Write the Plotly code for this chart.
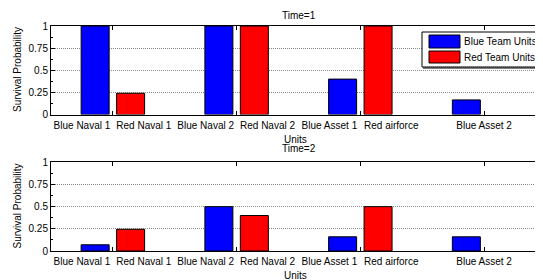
import plotly.graph_objects as go

groups = [1, 2, 3, 4]
blue_t1 = [1.0, 1.0, 0.40, 0.165]
red_t1 = [0.24, 1.0, 1.0, None]
blue_t2 = [0.07, 0.50, 0.16, 0.16]
red_t2 = [0.245, 0.40, 0.50, None]
label_pos = [0.75, 1.25, 1.75, 2.25, 2.75, 3.25, 4.0]
label_text = ["Blue Naval 1", "Red Naval 1", "Blue Naval 2", "Red Naval 2",
              "Blue Asset 1", "Red airforce", "Blue Asset 2"]
ytick_vals = [0, 0.25, 0.5, 0.75, 1]
ytick_text = ["0", "0.25", "0.5", "0.75", "1"]
titles = ["Time=1", "Time=2"]
series_names = ["Blue Team Units", "Red Team Units"]
BLUE = "#0000FF"
RED = "#FF0000"

W, H = 543, 280
OFF = 8  # page body margin offset
FONT = "Liberation Sans, Arial, sans-serif"

def px_x(p):
    return (p - OFF) / W

def px_y(p):
    return 1 - (p - OFF) / H

xdom = [px_x(51), px_x(541)]
ydoms = [[px_y(114.5), px_y(26)], [px_y(251), px_y(162.3)]]
xrange = [0.5, 4.46]

fig = go.Figure()
data = [(blue_t1, red_t1), (blue_t2, red_t2)]
for i, (b, r) in enumerate(data):
    xa = "x" if i == 0 else "x2"
    ya = "y" if i == 0 else "y2"
    fig.add_trace(go.Bar(x=groups, y=b, name=series_names[0], marker=dict(color=BLUE, line=dict(color="black", width=1)),
                         xaxis=xa, yaxis=ya, showlegend=False, offsetgroup="b"))
    fig.add_trace(go.Bar(x=groups, y=r, name=series_names[1], marker=dict(color=RED, line=dict(color="black", width=1)),
                         xaxis=xa, yaxis=ya, showlegend=False, offsetgroup="r"))
    lxa = "x3" if i == 0 else "x4"
    fig.add_trace(go.Scatter(x=[label_pos[0]], y=[0], mode="markers", marker=dict(opacity=0),
                             xaxis=lxa, yaxis=ya, showlegend=False, hoverinfo="skip"))

common_x = dict(domain=xdom, range=xrange, tickvals=groups, showticklabels=False, ticks="inside",
                ticklen=4, tickcolor="black", showline=True, linecolor="black", linewidth=1,
                mirror="ticks", showgrid=False, zeroline=False, automargin=False)
common_y = dict(range=[0, 1], tickvals=ytick_vals, ticktext=ytick_text, ticks="inside", ticklen=4,
                tickcolor="black", showline=True, linecolor="black", linewidth=1, mirror="ticks",
                showgrid=True, gridcolor="#8a8a8a", griddash="1px,1px", gridwidth=1, zeroline=False,
                automargin=False,
                tickfont=dict(family=FONT, size=10, color="black"),
                minor=dict(dtick=0.125, ticks="inside", ticklen=2, tickcolor="black", showgrid=False))
label_x = dict(domain=xdom, range=xrange, tickvals=label_pos, ticktext=label_text, ticks="",
               showline=False, showgrid=False, zeroline=False, automargin=False, ticklabelstandoff=3,
               tickfont=dict(family=FONT, size=10, color="black"))

fig.update_layout(
    width=W, height=H, margin=dict(l=0, r=0, t=0, b=0, autoexpand=False),
    paper_bgcolor="white", plot_bgcolor="white",
    barmode="group", bargap=0.427, bargroupgap=0.21,
    showlegend=False,
    xaxis=dict(anchor="y", **common_x),
    yaxis=dict(anchor="x", domain=ydoms[0], **common_y),
    xaxis2=dict(anchor="y2", **common_x),
    yaxis2=dict(anchor="x2", domain=ydoms[1], **common_y),
    xaxis3=dict(anchor="y", overlaying="x", **label_x),
    xaxis4=dict(anchor="y2", overlaying="x2", **label_x),
)

ann_font = dict(family=FONT, size=10, color="black")
anns = []
for i, (tpx, upx, ycen) in enumerate([(15, 139, 70), (148, 275, 206.5)]):
    anns.append(dict(text=titles[i], x=px_x(299), y=px_y(tpx), xref="paper", yref="paper",
                     showarrow=False, xanchor="center", yanchor="middle", font=ann_font))
    anns.append(dict(text="Units", x=px_x(295), y=px_y(upx), xref="paper", yref="paper",
                     showarrow=False, xanchor="center", yanchor="middle", font=ann_font))
    anns.append(dict(text="Survival Probability", x=px_x(17), y=px_y(ycen), xref="paper", yref="paper",
                     showarrow=False, xanchor="center", yanchor="middle", textangle=-90, font=ann_font))

shapes = []
shapes.append(dict(type="rect", xref="paper", yref="paper", x0=px_x(422), x1=px_x(540), y0=px_y(67), y1=px_y(32),
                   line=dict(color="black", width=1), fillcolor="white", layer="above"))
shapes.append(dict(type="line", xref="paper", yref="paper", x0=px_x(541), x1=px_x(541), y0=px_y(68), y1=px_y(33),
                   line=dict(color="black", width=1), layer="above"))
shapes.append(dict(type="line", xref="paper", yref="paper", x0=px_x(423), x1=px_x(541), y0=px_y(68), y1=px_y(68),
                   line=dict(color="black", width=1), layer="above"))
for j, (col, yt, yb, yc) in enumerate([(BLUE, 35, 48, 41.5), (RED, 51, 63, 57)]):
    shapes.append(dict(type="rect", xref="paper", yref="paper", x0=px_x(429), x1=px_x(460), y0=px_y(yb), y1=px_y(yt),
                       line=dict(color="black", width=1), fillcolor=col, layer="above"))
    anns.append(dict(text=series_names[j], x=px_x(462), y=px_y(yc), xref="paper", yref="paper",
                     showarrow=False, xanchor="left", yanchor="middle", font=ann_font))

fig.update_layout(annotations=anns, shapes=shapes)
fig.write_html("out.html")
